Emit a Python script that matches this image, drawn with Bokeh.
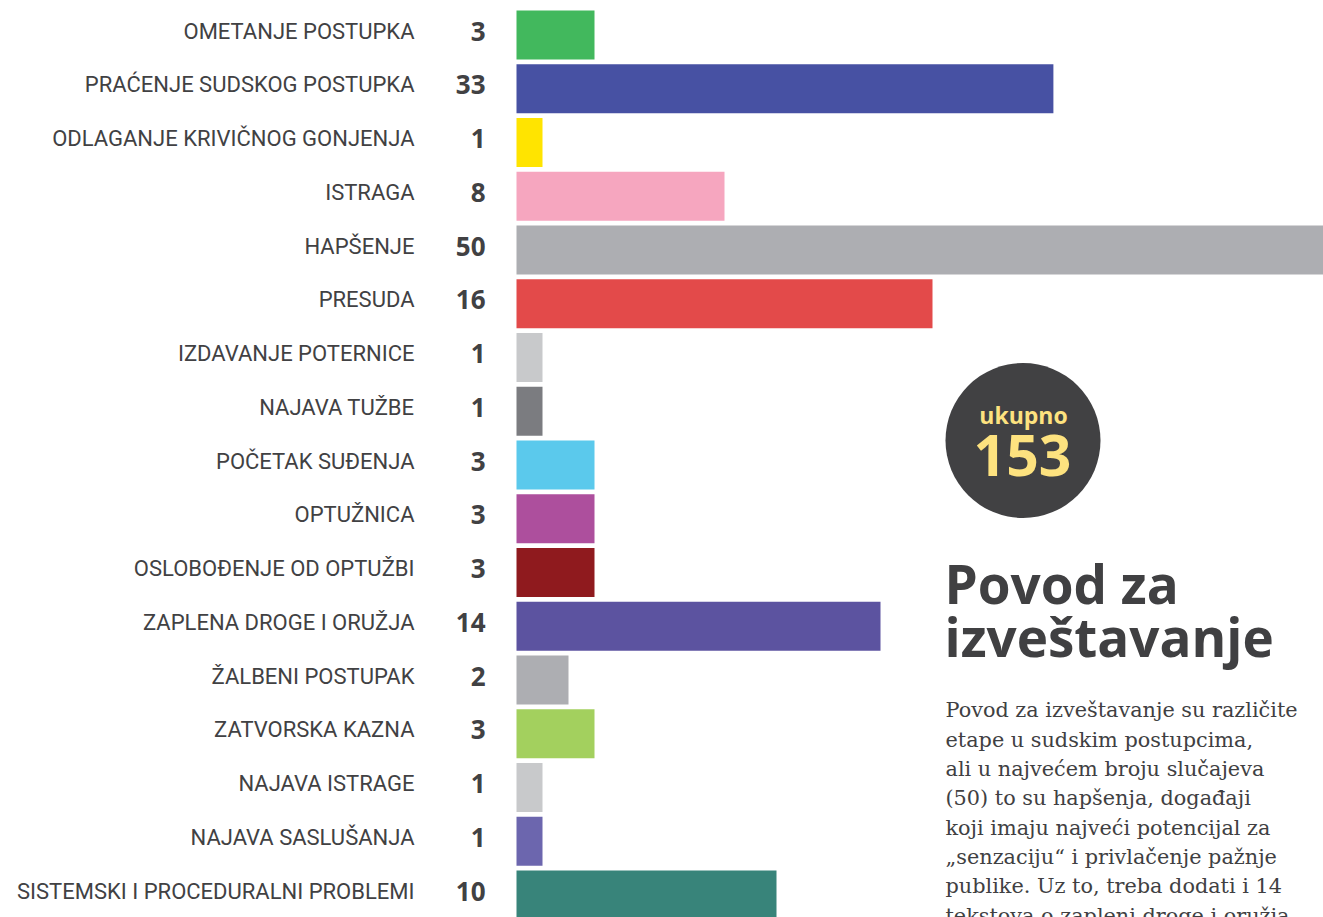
from bokeh.plotting import figure
from bokeh.models import Range1d, Label, ColumnDataSource
from bokeh.core.properties import value
from bokeh.embed import file_html
from bokeh.resources import INLINE

# ---------------- data ----------------
categories = [
    "OMETANJE POSTUPKA", "PRAĆENJE SUDSKOG POSTUPKA", "ODLAGANJE KRIVIČNOG GONJENJA",
    "ISTRAGA", "HAPŠENJE", "PRESUDA", "IZDAVANJE POTERNICE", "NAJAVA TUŽBE",
    "POČETAK SUĐENJA", "OPTUŽNICA", "OSLOBOĐENJE OD OPTUŽBI", "ZAPLENA DROGE I ORUŽJA",
    "ŽALBENI POSTUPAK", "ZATVORSKA KAZNA", "NAJAVA ISTRAGE", "NAJAVA SASLUŠANJA",
    "SISTEMSKI I PROCEDURALNI PROBLEMI",
]
values = [3, 33, 1, 8, 50, 16, 1, 1, 3, 3, 3, 14, 2, 3, 1, 1, 10]
# bar lengths as drawn in the picture (the two longest bars are shortened there)
bar_lengths = [3, 20.65, 1, 8, 31.1, 16, 1, 1, 3, 3, 3, 14, 2, 3, 1, 1, 10]
colors = [
    "#42b85d", "#4751a3", "#ffe400", "#f6a6bf", "#adaeb2", "#e34a4a", "#c8c9cb",
    "#7b7c80", "#5bc9ec", "#ad4f9d", "#8f1a1e", "#5c53a0", "#adaeb2", "#a3d05e",
    "#c8c9cb", "#6c66ae", "#38847a",
]
total_label = "ukupno"
total_value = "153"
title_lines = ["Povod za", "izveštavanje"]
paragraph_lines = [
    "Povod za izveštavanje su različite",
    "etape u sudskim postupcima,",
    "ali u najvećem broju slučajeva",
    "(50) to su hapšenja, događaji",
    "koji imaju najveći potencijal za",
    "„senzaciju“ i privlačenje pažnje",
    "publike. Uz to, treba dodati i 14",
    "tekstova o zapleni droge i oružja",
]

# ---------------- layout ----------------
W, H = 1323, 917
OFF = 0
PX_PER_UNIT = 26.0
ROW_PX = 53.75
BAR_X0 = 516.0
ROW0 = 34.5
BASE_SHIFT = 0.385  # compensation for where the renderer puts alphabetic baselines

def dx(px):
    return (px - BAR_X0) / PX_PER_UNIT

def dy(py):
    return (py - ROW0) / ROW_PX

def base_y(py, fs):
    return dy(py - BASE_SHIFT * fs)

x_range = Range1d(dx(OFF), dx(OFF + W))
y_range = Range1d(dy(OFF + H), dy(OFF))

p = figure(width=W, height=H, x_range=x_range, y_range=y_range,
           output_backend="svg", toolbar_location=None, min_border=0,
           x_axis_location=None, y_axis_location=None,
           outline_line_color=None, background_fill_color="white",
           border_fill_color="white")
p.grid.visible = False

src = ColumnDataSource(dict(
    row=list(range(len(categories))),
    category=categories,
    val=[str(v) for v in values],
    bar_len=bar_lengths,
    color=colors,
))

p.hbar(y="row", left=0, right="bar_len", height=49 / ROW_PX,
       fill_color="color", line_color=None, source=src)

p.text(x=0, y="row", text="category", x_offset=-102, y_offset=-4, text_align="right",
       text_baseline="middle", text_font=value("Roboto"), text_font_size="22px",
       text_color="#414143", source=src)

p.text(x=0, y="row", text="val", x_offset=-31, y_offset=-4, text_align="right",
       text_baseline="middle", text_font=value("Open Sans"), text_font_style="bold",
       text_font_size="26px", text_color="#414143", source=src)

# total badge
p.scatter(x=[dx(1022.5)], y=[dy(440)], size=155, marker="circle",
          fill_color="#414143", line_color=None)
p.add_layout(Label(x=dx(1023), y=base_y(423, 23), text=total_label, text_align="center",
                   text_baseline="alphabetic", text_font="Open Sans",
                   text_font_style="bold", text_font_size="23px", text_color="#fde27f"))
p.add_layout(Label(x=dx(1022), y=base_y(477, 57), text=total_value, text_align="center",
                   text_baseline="alphabetic", text_font="Open Sans",
                   text_font_style="bold", text_font_size="57px", text_color="#fde27f"))

# title
for i, t in enumerate(title_lines):
    p.add_layout(Label(x=dx(944), y=base_y(603 + i * 53, 53), text=t, text_align="left",
                       text_baseline="alphabetic", text_font="Open Sans",
                       text_font_style="bold", text_font_size="53px",
                       text_color="#404042"))

# paragraph
for i, t in enumerate(paragraph_lines):
    p.add_layout(Label(x=dx(945), y=base_y(718 + i * 29.3, 20.8), text=t, text_align="left",
                       text_baseline="alphabetic", text_font="DejaVu Serif",
                       text_font_size="20.8px", text_color="#404042"))

open("out.html", "w").write(file_html(p, INLINE))
